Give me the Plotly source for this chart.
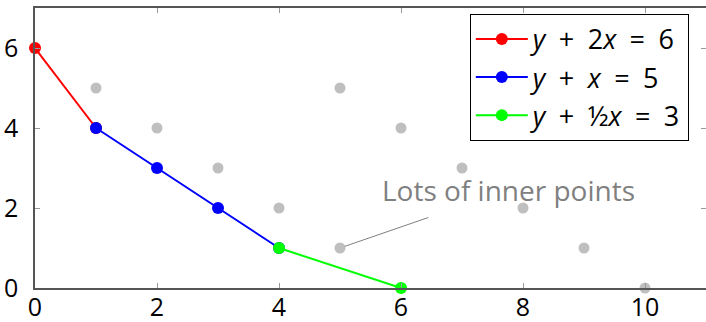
import plotly.graph_objects as go

# Data
inner_x = [1, 2, 3, 4, 5, 5, 6, 7, 8, 9, 10]
inner_y = [5, 4, 3, 2, 5, 1, 4, 3, 2, 1, 0]

red_x = [0, 1]
red_y = [6, 4]
blue_x = [1, 2, 3, 4]
blue_y = [4, 3, 2, 1]
green_x = [4, 6]
green_y = [1, 0]

SP = "\u2002"
labels = [f"<i>y</i>{SP}+{SP}2<i>x</i>{SP}={SP}6",
          f"<i>y</i>{SP}+{SP}<i>x</i>{SP}={SP}5",
          f"<i>y</i>{SP}+{SP}½<i>x</i>{SP}={SP}3"]
x_ticks = [0, 2, 4, 6, 8, 10]
y_ticks = [0, 2, 4, 6]
annot_text = "Lots of inner points"
annot_x, annot_y = 5, 1

FONT = "Open Sans"

fig = go.Figure()
fig.add_trace(go.Scatter(x=inner_x, y=inner_y, mode="markers",
                         marker=dict(color="#bfbfbf", size=11),
                         showlegend=False, cliponaxis=False))
for xs, ys, col, lab in [(red_x, red_y, "#ff0000", labels[0]),
                         (blue_x, blue_y, "#0000ff", labels[1]),
                         (green_x, green_y, "#00ff00", labels[2])]:
    fig.add_trace(go.Scatter(x=xs, y=ys, mode="lines+markers", name=lab,
                             line=dict(color=col, width=2),
                             marker=dict(color=col, size=12),
                             cliponaxis=False))

fig.add_annotation(x=annot_x, y=annot_y, text=annot_text, showarrow=True,
                   ax=168, ay=-58, arrowhead=0, arrowwidth=1, arrowcolor="#808080",
                   borderpad=8, standoff=5,
                   font=dict(family=FONT, size=28, color="#808080"))

axis_common = dict(showline=True, linecolor="#555555", linewidth=1.5, mirror="ticks",
                   ticks="inside", ticklen=5, tickcolor="#999999", tickwidth=1,
                   showgrid=False, zeroline=False, automargin=False,
                   tickfont=dict(family=FONT, size=25, color="#000000"))

fig.update_xaxes(range=[0, 11], tickvals=x_ticks, ticklabelstandoff=-4, **axis_common)
fig.update_yaxes(range=[0, 7], tickvals=y_ticks, ticklabelstandoff=10, **axis_common)

fig.update_layout(
    width=706, height=322,
    margin=dict(l=35, r=0, t=8, b=34, autoexpand=False),
    plot_bgcolor="white", paper_bgcolor="white",
    legend=dict(x=0.648, y=0.979, xanchor="left", yanchor="top",
                bordercolor="#000000", borderwidth=1, bgcolor="white",
                font=dict(family=FONT, size=27, color="#000000"),
                itemwidth=52, tracegroupgap=0),
)

fig.write_html("out.html", config={"displayModeBar": False},
               post_script="document.body.style.margin='0px';")
